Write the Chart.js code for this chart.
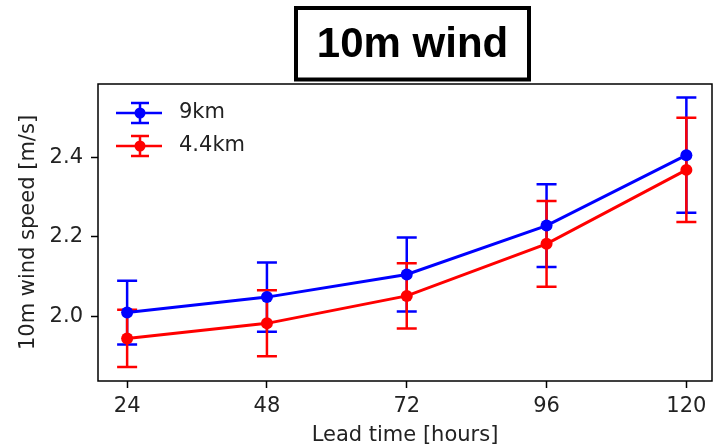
<!DOCTYPE html>
<html>
<head>
<meta charset="utf-8">
<script src="https://cdn.jsdelivr.net/npm/chart.js@4"></script>
<style>
  html, body { margin: 0; padding: 0; background: #fff; }
  canvas { display: block; }
</style>
</head>
<body>
<canvas id="windChart" width="713" height="448"></canvas>
<script>
// values
var leadTimes = [24, 48, 72, 96, 120];
var wind9km = [2.009, 2.048, 2.105, 2.228, 2.405];
var err9km = [0.080, 0.087, 0.093, 0.104, 0.145];
var wind44km = [1.944, 1.982, 2.051, 2.182, 2.368];
var err44km = [0.072, 0.083, 0.082, 0.108, 0.131];
var xTicks = [24, 48, 72, 96, 120];
var yTicks = [2.0, 2.2, 2.4];

function toPoints(xs, ys) {
    return xs.map(function(x, i) { return {x: x, y: ys[i]}; });
}

var FONT = "'DejaVu Sans', sans-serif";

// error bars under the lines
var errorBars = {
    id: 'errorBars',
    beforeDatasetsDraw: function(chart) {
        var ctx = chart.ctx;
        var xs = chart.scales.x, ys = chart.scales.y;
        chart.data.datasets.forEach(function(ds) {
            ctx.save();
            ctx.strokeStyle = ds.borderColor;
            ctx.lineWidth = 2.5;
            ds.data.forEach(function(p, i) {
                var px = xs.getPixelForValue(p.x);
                var top = ys.getPixelForValue(p.y + ds.errors[i]);
                var bot = ys.getPixelForValue(p.y - ds.errors[i]);
                ctx.beginPath();
                ctx.moveTo(px, top); ctx.lineTo(px, bot);
                ctx.moveTo(px - 10, top); ctx.lineTo(px + 10, top);
                ctx.moveTo(px - 10, bot); ctx.lineTo(px + 10, bot);
                ctx.stroke();
            });
            ctx.restore();
        });
    }
};

// frame, legend inside the axes and boxed title
var decorations = {
    id: 'decorations',
    afterDraw: function(chart) {
        var ctx = chart.ctx;
        var a = chart.chartArea;
        ctx.save();
        ctx.strokeStyle = '#000';
        ctx.lineWidth = 1.5;
        ctx.strokeRect(a.left, a.top, a.right - a.left, a.bottom - a.top);

        // legend
        chart.data.datasets.forEach(function(ds, i) {
            var y = 113 + i * 33;
            ctx.strokeStyle = ds.borderColor;
            ctx.fillStyle = ds.borderColor;
            ctx.lineWidth = 2.5;
            ctx.beginPath();
            ctx.moveTo(116, y); ctx.lineTo(162, y);
            ctx.moveTo(140, y - 10); ctx.lineTo(140, y + 10);
            ctx.moveTo(131, y - 10); ctx.lineTo(149, y - 10);
            ctx.moveTo(131, y + 10); ctx.lineTo(149, y + 10);
            ctx.stroke();
            ctx.beginPath();
            ctx.arc(140, y, 5.5, 0, Math.PI * 2);
            ctx.fill();
            ctx.fillStyle = '#222';
            ctx.font = '21px ' + FONT;
            ctx.textBaseline = 'middle';
            ctx.textAlign = 'left';
            ctx.fillText(ds.label, 179, y);
        });

        // title box
        ctx.strokeStyle = '#000';
        ctx.lineWidth = 4;
        ctx.strokeRect(296, 8, 233, 71.5);
        ctx.fillStyle = '#000';
        ctx.font = "bold 42px 'Liberation Sans', Arial, sans-serif";
        ctx.textAlign = 'center';
        ctx.textBaseline = 'middle';
        ctx.fillText('10m wind', 412.5, 45);
        ctx.restore();
    }
};

var data = {
    datasets: [
        {
            label: '9km',
            data: toPoints(leadTimes, wind9km),
            errors: err9km,
            borderColor: '#0000ff',
            backgroundColor: '#0000ff',
            borderWidth: 3,
            pointRadius: 6,
            pointBorderWidth: 0,
            order: 1
        },
        {
            label: '4.4km',
            data: toPoints(leadTimes, wind44km),
            errors: err44km,
            borderColor: '#ff0000',
            backgroundColor: '#ff0000',
            borderWidth: 3,
            pointRadius: 6,
            pointBorderWidth: 0,
            order: 0
        }
    ]
};

var options = {
    responsive: false,
    animation: false,
    devicePixelRatio: 1,
    layout: { autoPadding: false, padding: { top: 84, right: 1, left: 0, bottom: 0 } },
    plugins: { legend: { display: false }, tooltip: { enabled: false } },
    scales: {
        x: {
            type: 'linear',
            min: 19.0,
            max: 124.4,
            afterBuildTicks: function(scale) {
                scale.ticks = xTicks.map(function(v) { return {value: v}; });
            },
            afterFit: function(scale) {
                scale.height = 67;
                scale.paddingLeft = 0;
                scale.paddingRight = 0;
            },
            grid: { display: true, drawOnChartArea: false, drawTicks: true, tickLength: 7, tickWidth: 1.5, color: '#000' },
            border: { display: false },
            ticks: { color: '#222', font: { family: FONT, size: 21 }, padding: 6, maxRotation: 0 },
            title: { display: true, text: 'Lead time [hours]', color: '#222', font: { family: FONT, size: 21 }, padding: { top: 0, bottom: 0 } }
        },
        y: {
            type: 'linear',
            min: 1.837,
            max: 2.584,
            afterBuildTicks: function(scale) {
                scale.ticks = yTicks.map(function(v) { return {value: v}; });
            },
            afterFit: function(scale) {
                scale.width = 98;
                scale.paddingTop = 0;
                scale.paddingBottom = 0;
            },
            grid: { display: true, drawOnChartArea: false, drawTicks: true, tickLength: 7, tickWidth: 1.5, color: '#000' },
            border: { display: false },
            ticks: {
                color: '#222',
                font: { family: FONT, size: 21 },
                padding: 8,
                callback: function(v) { return v.toFixed(1); }
            },
            title: { display: true, text: '10m wind speed [m/s]', color: '#222', font: { family: FONT, size: 21 }, padding: { top: 16, bottom: 0 } }
        }
    }
};

var ctx = document.getElementById('windChart').getContext('2d');
var windChart = new Chart(ctx, {
    type: 'line',
    data: data,
    options: options,
    plugins: [errorBars, decorations]
});
</script>
</body>
</html>
